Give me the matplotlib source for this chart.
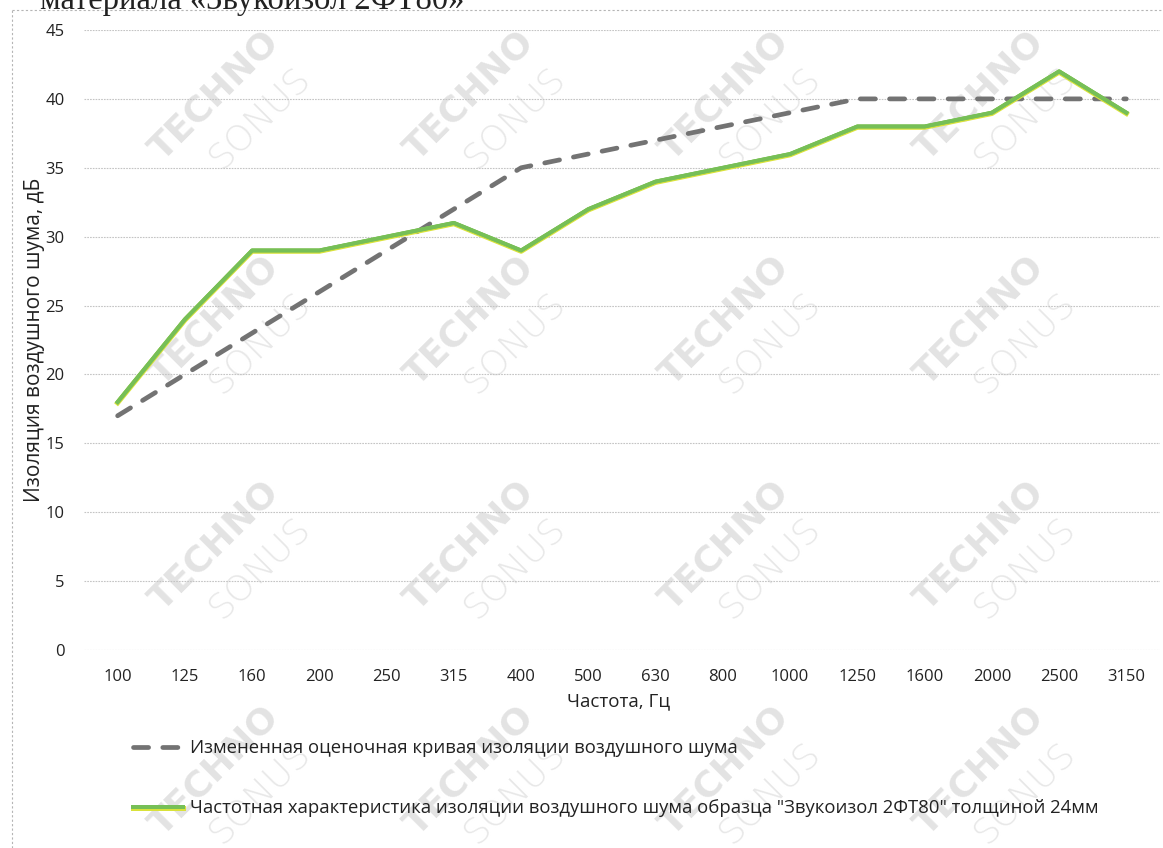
import matplotlib
matplotlib.use("Agg")
import matplotlib.pyplot as plt
import matplotlib.patheffects as pe
from matplotlib.lines import Line2D

plt.rcParams['font.family'] = ['Open Sans', 'DejaVu Sans']

freqs = ["100", "125", "160", "200", "250", "315", "400", "500", "630", "800",
         "1000", "1250", "1600", "2000", "2500", "3150"]
ref_curve = [17, 20, 23, 26, 29, 32, 35, 36, 37, 38, 39, 40, 40, 40, 40, 40]
measured = [18, 24, 29, 29, 30, 31, 29, 32, 34, 35, 36, 38, 38, 39, 42, 39]
yticks = [0, 5, 10, 15, 20, 25, 30, 35, 40, 45]

label_ref = "Измененная оценочная кривая изоляции воздушного шума"
label_meas = "Частотная характеристика изоляции воздушного шума образца \"Звукоизол 2ФТ80\" толщиной 24мм"
title_text = "материала «Звукоизол 2ФТ80»"
xlabel = "Частота, Гц"
ylabel = "Изоляция воздушного шума, дБ"

W, H = 1163, 848
fig = plt.figure(figsize=(W / 100, H / 100), dpi=100)
fig.patch.set_facecolor("white")

# watermark
wm_cols = [215, 470, 725, 980]
wm_rows = [95, 320, 545, 770]
for r in wm_rows:
    for c in wm_cols:
        fig.text(c / W, 1 - r / H, "TECHNO", rotation=45, ha="center", va="center",
                 fontsize=26, fontweight="bold", color="#e3e3e3", zorder=-5,
                 family="DejaVu Sans")
        fig.text((c + 45) / W, 1 - (r + 22) / H, "SONUS", rotation=45, ha="center", va="center",
                 fontsize=26, fontweight="light", color="#e8e8e8", zorder=-5,
                 family="DejaVu Sans")

# scan frame lines
fig.add_artist(Line2D([12 / W, 1], [1 - 10 / H, 1 - 10 / H], color="#b5b5b5",
                      lw=0.8, ls=(0, (2, 2)), zorder=-4))
fig.add_artist(Line2D([12 / W, 12 / W], [0, 1 - 10 / H], color="#b5b5b5",
                      lw=0.8, ls=(0, (2, 2)), zorder=-4))

# clipped title (cut at the top edge, as in the scan)
fig.text(40 / W, 1 - 9 / H, title_text, ha="left", va="baseline",
         fontsize=23.5, family="Liberation Serif", color="#222222")

ax = fig.add_axes([84 / W, 1 - 650 / H, 1076 / W, 620 / H])
ax.set_facecolor("none")
x = list(range(len(freqs)))

ax.plot(x, ref_curve, color="#737373", lw=3.4, dashes=(3.2, 3.0),
        dash_capstyle="round", solid_capstyle="round", zorder=3, label=label_ref)
ax.plot(x, measured, color="#76bf57", lw=2.8, zorder=4, label=label_meas,
        path_effects=[pe.Stroke(linewidth=3.6, foreground="#d9e23a", offset=(0, -0.6)),
                      pe.Stroke(linewidth=2.8, foreground="#76bf57"), pe.Normal()])

ax.set_xlim(-0.5, len(freqs) - 0.5)
ax.set_ylim(0, 45)
ax.set_yticks(yticks)
ax.set_xticks(x)
ax.set_xticklabels(freqs)
ax.yaxis.grid(True, color="#c4c4c4", lw=0.8, ls=(0, (1.5, 1)))
ax.set_axisbelow(True)
for s in ax.spines.values():
    s.set_visible(False)
ax.tick_params(axis="both", length=0, labelsize=12, colors="#222222")
ax.tick_params(axis="x", pad=14)
ax.tick_params(axis="y", pad=14)
ax.set_xlabel(xlabel, fontsize=13.5, color="#222222")
ax.set_ylabel(ylabel, fontsize=15, color="#222222")
ax.xaxis.set_label_coords((619 - 84) / 1076, -(692 - 650) / 620)
ax.yaxis.set_label_coords((45 - 84) / 1076, 0.5)

leg = fig.legend(loc="upper left", bbox_to_anchor=(133 / W, 1 - 739 / H),
                 frameon=False, fontsize=13.3, labelspacing=2.3,
                 handlelength=2.7, handletextpad=0.4, borderpad=0, borderaxespad=0)
for t in leg.get_texts():
    t.set_color("#222222")

fig.savefig("out.png", dpi=100, facecolor="white")
